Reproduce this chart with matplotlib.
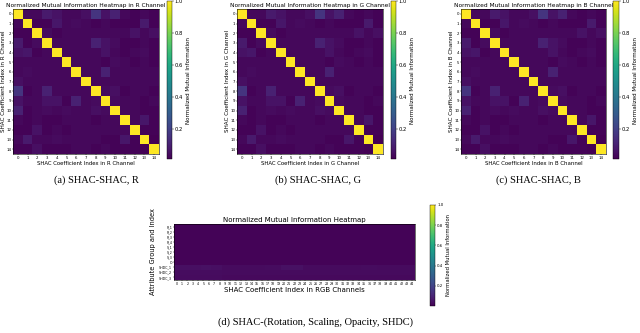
import numpy as np
import matplotlib
matplotlib.use("Agg")
import matplotlib.pyplot as plt

W, H = 640, 333

SHAC_IDX = list(range(15))
RGB_IDX = list(range(45))
ATTR_LABELS = ["R_1", "R_2", "R_3", "R_4", "S_1", "S_2", "S_3", "O",
               "SHDC_1", "SHDC_2", "SHDC_3"]
CHANNELS = ["R", "G", "B"]
CAPTIONS = ["(a) SHAC-SHAC, R", "(b) SHAC-SHAC, G", "(c) SHAC-SHAC, B",
            "(d) SHAC-(Rotation, Scaling, Opacity, SHDC)"]

# normalized MI between SHAC coefficients (R channel; G and B look the same)
NMI_R = [
    [1.00, 0.03, 0.03, 0.08, 0.06, 0.03, 0.03, 0.05, 0.16, 0.06, 0.10, 0.03, 0.02, 0.03, 0.02],
    [0.03, 1.00, 0.02, 0.02, 0.07, 0.03, 0.04, 0.03, 0.02, 0.03, 0.02, 0.02, 0.02, 0.08, 0.02],
    [0.02, 0.02, 1.00, 0.04, 0.02, 0.03, 0.03, 0.03, 0.03, 0.03, 0.03, 0.03, 0.06, 0.03, 0.05],
    [0.08, 0.02, 0.04, 1.00, 0.03, 0.03, 0.03, 0.03, 0.10, 0.06, 0.04, 0.02, 0.02, 0.03, 0.02],
    [0.06, 0.07, 0.02, 0.03, 1.00, 0.03, 0.03, 0.03, 0.03, 0.06, 0.03, 0.02, 0.03, 0.04, 0.02],
    [0.03, 0.03, 0.03, 0.03, 0.03, 1.00, 0.03, 0.03, 0.03, 0.02, 0.04, 0.03, 0.02, 0.03, 0.02],
    [0.03, 0.04, 0.03, 0.03, 0.03, 0.03, 1.00, 0.03, 0.03, 0.10, 0.03, 0.03, 0.03, 0.03, 0.03],
    [0.05, 0.03, 0.03, 0.03, 0.03, 0.03, 0.03, 1.00, 0.03, 0.03, 0.03, 0.03, 0.03, 0.03, 0.03],
    [0.16, 0.02, 0.03, 0.10, 0.03, 0.03, 0.03, 0.03, 1.00, 0.04, 0.05, 0.02, 0.03, 0.03, 0.02],
    [0.06, 0.03, 0.03, 0.06, 0.06, 0.02, 0.10, 0.03, 0.04, 1.00, 0.04, 0.03, 0.03, 0.02, 0.03],
    [0.10, 0.02, 0.03, 0.04, 0.03, 0.04, 0.03, 0.03, 0.05, 0.04, 1.00, 0.03, 0.03, 0.02, 0.02],
    [0.03, 0.02, 0.03, 0.02, 0.02, 0.03, 0.03, 0.03, 0.02, 0.03, 0.03, 1.00, 0.03, 0.07, 0.02],
    [0.02, 0.02, 0.06, 0.02, 0.03, 0.02, 0.03, 0.03, 0.03, 0.03, 0.03, 0.03, 1.00, 0.02, 0.02],
    [0.03, 0.08, 0.03, 0.03, 0.04, 0.03, 0.03, 0.03, 0.03, 0.02, 0.02, 0.07, 0.02, 1.00, 0.01],
    [0.02, 0.02, 0.05, 0.02, 0.02, 0.02, 0.03, 0.03, 0.02, 0.03, 0.02, 0.02, 0.02, 0.01, 1.00],
]
NMI_G = NMI_R
NMI_B = NMI_R

# attributes vs SHAC coefficients over all RGB channels
NMI_ATTR = [
    [0.01, 0.01, 0.01, 0.01, 0.01, 0.01, 0.01, 0.01, 0.01, 0.01, 0.01, 0.01, 0.01, 0.01, 0.01, 0.01, 0.01, 0.01, 0.01, 0.01, 0.01, 0.01, 0.01, 0.01, 0.01, 0.01, 0.01, 0.01, 0.01, 0.01, 0.01, 0.01, 0.01, 0.01, 0.01, 0.01, 0.01, 0.01, 0.01, 0.01, 0.01, 0.01, 0.01, 0.01, 0.01],
    [0.01, 0.01, 0.01, 0.01, 0.01, 0.01, 0.01, 0.01, 0.01, 0.01, 0.01, 0.01, 0.01, 0.01, 0.01, 0.01, 0.01, 0.01, 0.01, 0.01, 0.01, 0.01, 0.01, 0.01, 0.01, 0.01, 0.01, 0.01, 0.01, 0.01, 0.01, 0.01, 0.01, 0.01, 0.01, 0.01, 0.01, 0.01, 0.01, 0.01, 0.01, 0.01, 0.01, 0.01, 0.01],
    [0.01, 0.01, 0.01, 0.01, 0.01, 0.01, 0.01, 0.01, 0.01, 0.01, 0.01, 0.01, 0.01, 0.01, 0.01, 0.01, 0.01, 0.01, 0.01, 0.01, 0.01, 0.01, 0.01, 0.01, 0.01, 0.01, 0.01, 0.01, 0.01, 0.01, 0.01, 0.01, 0.01, 0.01, 0.01, 0.01, 0.01, 0.01, 0.01, 0.01, 0.01, 0.01, 0.01, 0.01, 0.01],
    [0.01, 0.01, 0.01, 0.01, 0.01, 0.01, 0.01, 0.01, 0.01, 0.01, 0.01, 0.01, 0.01, 0.01, 0.01, 0.01, 0.01, 0.01, 0.01, 0.01, 0.01, 0.01, 0.01, 0.01, 0.01, 0.01, 0.01, 0.01, 0.01, 0.01, 0.01, 0.01, 0.01, 0.01, 0.01, 0.01, 0.01, 0.01, 0.01, 0.01, 0.01, 0.01, 0.01, 0.01, 0.01],
    [0.01, 0.01, 0.01, 0.01, 0.01, 0.01, 0.01, 0.01, 0.01, 0.01, 0.01, 0.01, 0.01, 0.01, 0.01, 0.01, 0.01, 0.01, 0.01, 0.01, 0.01, 0.01, 0.01, 0.01, 0.01, 0.01, 0.01, 0.01, 0.01, 0.01, 0.01, 0.01, 0.01, 0.01, 0.01, 0.01, 0.01, 0.01, 0.01, 0.01, 0.01, 0.01, 0.01, 0.01, 0.01],
    [0.01, 0.01, 0.01, 0.01, 0.01, 0.01, 0.01, 0.01, 0.01, 0.01, 0.01, 0.01, 0.01, 0.01, 0.01, 0.01, 0.01, 0.01, 0.01, 0.01, 0.01, 0.01, 0.01, 0.01, 0.01, 0.01, 0.01, 0.01, 0.01, 0.01, 0.01, 0.01, 0.01, 0.01, 0.01, 0.01, 0.01, 0.01, 0.01, 0.01, 0.01, 0.01, 0.01, 0.01, 0.01],
    [0.01, 0.01, 0.01, 0.01, 0.01, 0.01, 0.01, 0.01, 0.01, 0.01, 0.01, 0.01, 0.01, 0.01, 0.01, 0.01, 0.01, 0.01, 0.01, 0.01, 0.01, 0.01, 0.01, 0.01, 0.01, 0.01, 0.01, 0.01, 0.01, 0.01, 0.01, 0.01, 0.01, 0.01, 0.01, 0.01, 0.01, 0.01, 0.01, 0.01, 0.01, 0.01, 0.01, 0.01, 0.01],
    [0.01, 0.01, 0.01, 0.01, 0.01, 0.01, 0.01, 0.01, 0.01, 0.01, 0.01, 0.01, 0.01, 0.01, 0.01, 0.01, 0.01, 0.01, 0.01, 0.01, 0.01, 0.01, 0.01, 0.01, 0.01, 0.01, 0.01, 0.01, 0.01, 0.01, 0.01, 0.01, 0.01, 0.01, 0.01, 0.01, 0.01, 0.01, 0.01, 0.01, 0.01, 0.01, 0.01, 0.01, 0.01],
    [0.04, 0.04, 0.04, 0.04, 0.04, 0.045, 0.045, 0.04, 0.04, 0.03, 0.03, 0.03, 0.03, 0.03, 0.03, 0.03, 0.03, 0.035, 0.035, 0.035, 0.045, 0.045, 0.045, 0.045, 0.03, 0.03, 0.03, 0.03, 0.03, 0.03, 0.03, 0.03, 0.03, 0.03, 0.03, 0.035, 0.035, 0.035, 0.03, 0.03, 0.03, 0.03, 0.03, 0.03, 0.03],
    [0.035, 0.035, 0.035, 0.035, 0.035, 0.035, 0.035, 0.035, 0.035, 0.03, 0.03, 0.03, 0.03, 0.03, 0.03, 0.03, 0.03, 0.03, 0.03, 0.03, 0.03, 0.03, 0.03, 0.03, 0.03, 0.03, 0.03, 0.03, 0.03, 0.03, 0.03, 0.03, 0.03, 0.03, 0.03, 0.03, 0.03, 0.03, 0.03, 0.03, 0.03, 0.03, 0.03, 0.03, 0.03],
    [0.03, 0.03, 0.03, 0.03, 0.03, 0.03, 0.03, 0.03, 0.03, 0.025, 0.025, 0.025, 0.025, 0.025, 0.025, 0.025, 0.025, 0.025, 0.025, 0.025, 0.025, 0.025, 0.025, 0.025, 0.025, 0.025, 0.025, 0.025, 0.025, 0.025, 0.025, 0.025, 0.025, 0.025, 0.025, 0.025, 0.025, 0.025, 0.025, 0.025, 0.025, 0.025, 0.025, 0.025, 0.025],
]

CB_TICKS = [0.2, 0.4, 0.6, 0.8, 1.0]

fig = plt.figure(figsize=(W / 100, H / 100), dpi=100)


def place(x0, y0, x1, y1):
    # pixel box measured from the top-left corner
    return fig.add_axes([x0 / W, 1 - y1 / H, (x1 - x0) / W, (y1 - y0) / H])


def caption(x, y, text):
    fig.text(x / W, 1 - y / H, text, ha="center", va="center",
             family="Liberation Serif", fontsize=7.5)


def shac_panel(mat, ch, hbox, cbox):
    ax = place(*hbox)
    im = ax.imshow(np.array(mat), cmap="viridis", aspect="auto", interpolation="nearest")
    ax.set_xticks(SHAC_IDX)
    ax.set_yticks(SHAC_IDX)
    ax.tick_params(labelsize=2.8, length=1, width=0.3, pad=0.4)
    for s in ax.spines.values():
        s.set_linewidth(0.4)
    ax.set_title(f"Normalized Mutual Information Heatmap in {ch} Channel", fontsize=4.2, pad=1.3)
    ax.set_xlabel(f"SHAC Coefficient Index in {ch} Channel", fontsize=3.9, labelpad=0.5)
    ax.set_ylabel(f"SHAC Coefficient Index in {ch} Channel", fontsize=4.1, labelpad=0.3)
    cax = place(*cbox)
    cb = fig.colorbar(im, cax=cax)
    cb.set_ticks(CB_TICKS)
    cb.ax.tick_params(labelsize=3.8, length=1.2, width=0.3, pad=0.8)
    cb.outline.set_linewidth(0.3)
    cb.set_label("Normalized Mutual Information", fontsize=4.1, labelpad=2)


shac_panel(NMI_R, "R", (13, 9, 159, 154), (167, 1, 172, 159))
shac_panel(NMI_G, "G", (237, 9, 383, 154), (391, 1, 396, 159))
shac_panel(NMI_B, "B", (461, 9, 606, 154), (613, 1, 619, 159))

# attribute vs SHAC panel
ax = place(174, 224, 415, 280)
im = ax.imshow(np.array(NMI_ATTR), cmap="viridis", vmin=0, vmax=1,
               aspect="auto", interpolation="nearest")
ax.set_xticks(RGB_IDX)
ax.set_yticks(range(len(ATTR_LABELS)))
ax.set_yticklabels(ATTR_LABELS)
ax.tick_params(labelsize=2.3, length=0.8, width=0.3, pad=0.5)
for s in ax.spines.values():
    s.set_linewidth(0.4)
ax.set_title("Normalized Mutual Information Heatmap", fontsize=5.0, pad=1.5)
ax.set_xlabel("SHAC Coefficient Index in RGB Channels", fontsize=5.0, labelpad=0.5)
ax.set_ylabel("Attribute Group and Index", fontsize=4.8, labelpad=2.5)
cax = place(430, 205, 435, 306)
cb = fig.colorbar(im, cax=cax)
cb.set_ticks(CB_TICKS)
cb.ax.tick_params(labelsize=2.8, length=1, width=0.3, pad=0.6)
cb.outline.set_linewidth(0.3)
cb.set_label("Normalized Mutual Information", fontsize=3.8, labelpad=2)

caption(96, 180, CAPTIONS[0])
caption(318, 180, CAPTIONS[1])
caption(538, 180, CAPTIONS[2])
caption(316, 322, CAPTIONS[3])

fig.savefig("out.png", dpi=100)
